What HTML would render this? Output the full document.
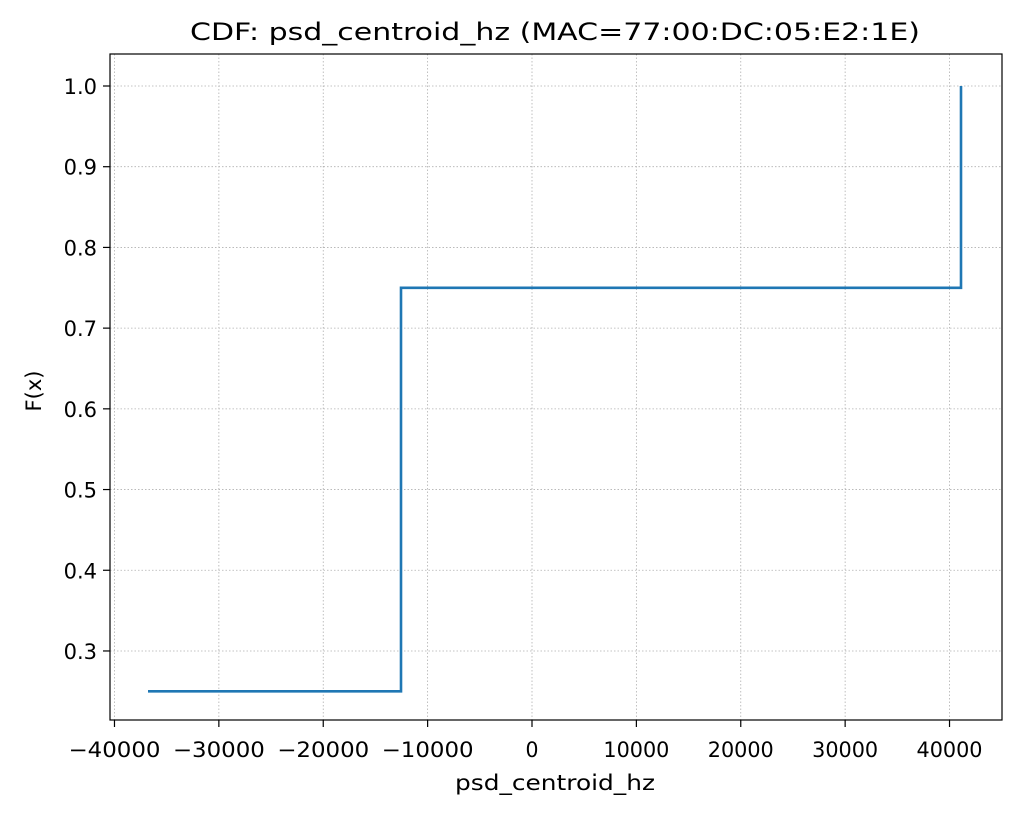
<!DOCTYPE html>
<html><head><meta charset="utf-8"><style>
body{margin:0;background:#fff;}
svg text{font-family:"DejaVu Sans","Liberation Sans",sans-serif;fill:#000;}
</style></head><body>
<svg id="chart" width="1020" height="815" xmlns="http://www.w3.org/2000/svg">
<rect width="1020" height="815" fill="#fff"/>
<g id="grid"></g>
<g id="ticks"></g>
<path id="line" fill="none" stroke="#1f77b4" stroke-width="2.6"/>
<rect x="110" y="54" width="892" height="666" fill="none" stroke="#000" stroke-width="1.2"/>
<text x="190" y="40" font-size="24" textLength="730" lengthAdjust="spacingAndGlyphs">CDF: psd_centroid_hz (MAC=77:00:DC:05:E2:1E)</text>
<text x="455" y="790" font-size="21" textLength="200" lengthAdjust="spacingAndGlyphs">psd_centroid_hz</text>
<text x="0" y="0" font-size="21" text-anchor="middle" transform="translate(41,391) rotate(-90)">F(x)</text>
</svg>
<script>
const xValues=[-36790,-12550,-12550,41100,41100];
const yValues=[0.25,0.25,0.75,0.75,1.0];
const xTicks=[-40000,-30000,-20000,-10000,0,10000,20000,30000,40000];
const xTickLabels=["\u221240000","\u221230000","\u221220000","\u221210000","0","10000","20000","30000","40000"];
const yTicks=[0.3,0.4,0.5,0.6,0.7,0.8,0.9,1.0];
const yTickLabels=["0.3","0.4","0.5","0.6","0.7","0.8","0.9","1.0"];
const X=v=>532+v*0.010438;
const Y=v=>86+(1-v)*807.1;
const NS="http://www.w3.org/2000/svg";
const grid=document.getElementById('grid'),ticks=document.getElementById('ticks');
function mk(tag,attrs,parent){const e=document.createElementNS(NS,tag);for(const k in attrs)e.setAttribute(k,attrs[k]);parent.appendChild(e);return e;}
xTicks.forEach((t,i)=>{const x=X(t);
const g=mk('line',{x1:x,x2:x,y1:54,y2:720,stroke:'#b0b0b0','stroke-width':0.8,'stroke-dasharray':'1.5,2'},grid);

const tk=mk('line',{x1:x,x2:x,y1:720,y2:727,stroke:'#000','stroke-width':1.2},ticks);

const lab=xTickLabels[i];
const w=lab.length===1?13:(lab.length===5?66:92);
const tx=mk('text',{x:x,y:757,'font-size':21,'text-anchor':'middle',textLength:w,lengthAdjust:'spacingAndGlyphs'},ticks);tx.textContent=lab;
});
yTicks.forEach((t,i)=>{const y=Y(t);
const g=mk('line',{x1:110,x2:1002,y1:y,y2:y,stroke:'#b0b0b0','stroke-width':0.8,'stroke-dasharray':'1.5,2'},grid);

const tk=mk('line',{x1:103,x2:110,y1:y,y2:y,stroke:'#000','stroke-width':1.2},ticks);

const tx=mk('text',{x:97,y:y+8,'font-size':21,'text-anchor':'end'},ticks);tx.textContent=yTickLabels[i];
});
document.getElementById('line').setAttribute('d',xValues.map((v,i)=>(i?'L':'M')+X(v).toFixed(1)+','+Y(yValues[i]).toFixed(1)).join(' '));
</script>
</body></html>
